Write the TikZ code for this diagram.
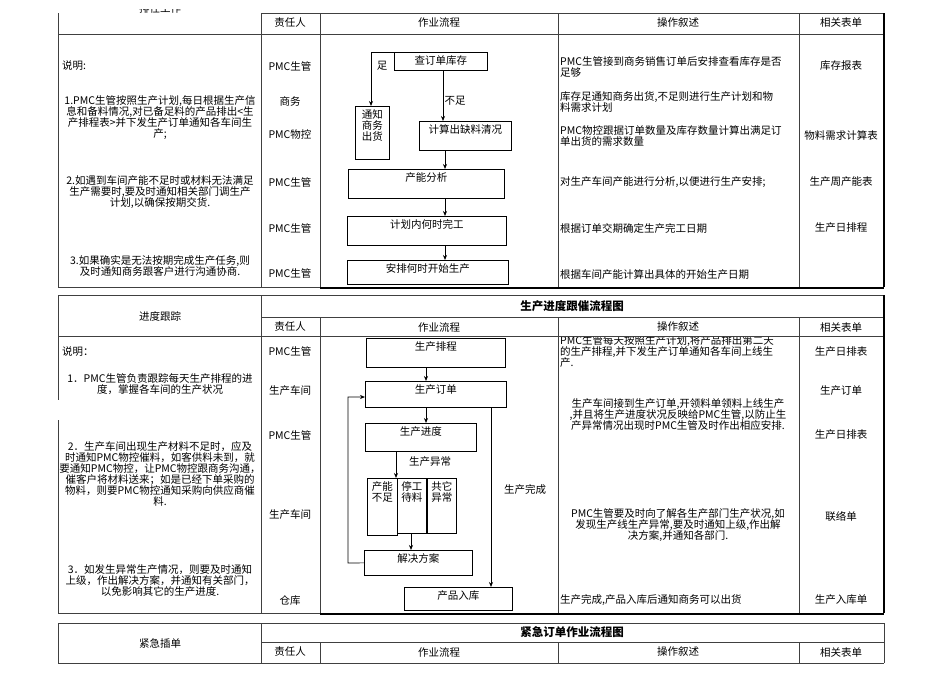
\documentclass[tikz,border=0pt]{standalone}
\usepackage{fontspec}
\setmainfont{Noto Sans CJK SC}
\usetikzlibrary{arrows.meta}
\begin{document}
\begin{tikzpicture}[x=1pt,y=-1pt,
  grid/.style={draw=black!75,line width=0.8pt},
  thk/.style={draw=black,line width=1.6pt},
  t/.style={font=\fontsize{10.5}{11}\selectfont,inner sep=0pt,align=center},
  tl/.style={t,anchor=west,align=left},
  ttl/.style={font=\fontsize{11.5}{13}\selectfont\bfseries,inner sep=0pt},
  box/.style={draw,line width=0.7pt,anchor=north west,inner sep=0pt},
  bt/.style={t,anchor=north,inner sep=0pt,yshift=-3pt},
  arr/.style={line width=0.7pt,-{Stealth[length=5pt,width=4pt]}},
  ln/.style={line width=0.7pt}]
\useasboundingbox (0,0) rectangle (950,672);
% ---------- section 1 grid
\begin{scope}
\clip (0,9) rectangle (950,672);
\node[t] (s1title) at (160,9) {排任工作};
\end{scope}
\draw[grid] (58,13)--(58,287) (261,13)--(261,287) (320,13)--(320,287) (558,13)--(558,287) (799,13)--(799,287)
  (58,34)--(884,34) (58,287)--(884,287) (261,13)--(884,13);
\draw[thk] (884,13)--(884,287) (320,288)--(884,288);
\node[t] (h1a) at (290,23) {责任人};
\node[t] (h1b) at (439,23) {作业流程};
\node[t] (h1c) at (678,23) {操作叙述};
\node[t] (h1d) at (841,23) {相关表单};
\node[tl] (l1a) at (62,66) {说明:};
\node[t] (l1b) at (160,118) {1.PMC生管按照生产计划,每日根据生产信\\息和备料情况,对已备足料的产品排出<生\\产排程表>并下发生产订单通知各车间生\\产;};
\node[t] (l1c) at (160,192) {2.如遇到车间产能不足时或材料无法满足\\生产需要时,要及时通知相关部门调生产\\计划,以确保按期交货.};
\node[t] (l1d) at (160,266) {3.如果确实是无法按期完成生产任务,则\\及时通知商务跟客户进行沟通协商.};
\node[t] (r1a) at (290,66) {PMC生管};
\node[t] (r1b) at (290,101) {商务};
\node[t] (r1c) at (290,135) {PMC物控};
\node[t] (r1d) at (290,182) {PMC生管};
\node[t] (r1e) at (290,228) {PMC生管};
\node[t] (r1f) at (290,273) {PMC生管};
\node[tl] (o1a) at (560,67) {PMC生管接到商务销售订单后安排查看库存是否\\足够};
\node[tl] (o1b) at (560,102) {库存足通知商务出货,不足则进行生产计划和物\\料需求计划};
\node[tl] (o1c) at (560,136) {PMC物控跟据订单数量及库存数量计算出满足订\\单出货的需求数量};
\node[tl] (o1d) at (560,182) {对生产车间产能进行分析,以便进行生产安排;};
\node[tl] (o1e) at (560,228) {根据订单交期确定生产完工日期};
\node[tl] (o1f) at (560,275) {根据车间产能计算出具体的开始生产日期};
\node[t] (f1a) at (841,66) {库存报表};
\node[t] (f1b) at (841,135) {物料需求计算表};
\node[t] (f1c) at (841,182) {生产周产能表};
\node[t] (f1d) at (841,228) {生产日排程};
% flow 1
\node[box,minimum width=93,minimum height=18] (c1) at (394,52) {};
\node[bt] at (c1.north) {查订单库存};
\node[box,minimum width=34,minimum height=53] (c2) at (355,106) {};
\node[bt] at (c2.north) {通知\\商务\\出货};
\node[box,minimum width=92,minimum height=29] (c3) at (419,121) {};
\node[bt] at (c3.north) {计算出缺料清况};
\node[box,minimum width=156,minimum height=29] (c4) at (348,169) {};
\node[bt] at (c4.north) {产能分析};
\node[box,minimum width=159,minimum height=29] (c5) at (347,216) {};
\node[bt] at (c5.north) {计划内何时完工};
\node[box,minimum width=161,minimum height=24] (c6) at (347,260) {};
\node[bt] at (c6.north) {安排何时开始生产};
\coordinate (k1) at (371,52);
\draw[arr] (c1.north west) -- (k1) -- (k1 |- c2.north);
\node[t] (zu) at (382,66) {足};
\draw[arr] (443,70) -- (443,121);
\node[t] (buzu) at (455,101) {不足};
\draw[arr] (445,150) -- (445,169);
\draw[arr] (445,198) -- (445,216);
\draw[arr] (445,245) -- (445,260);
% ---------- section 2 grid
\draw[grid] (58,295)--(58,400) (58,420)--(58,613) (261,295)--(261,613) (320,317)--(320,613) (558,317)--(558,613) (799,317)--(799,613)
  (58,295)--(884,295) (261,317)--(884,317) (58,336)--(884,336) (58,613)--(884,613);
\draw[thk] (884,295)--(884,613) (320,614)--(884,614);
\node[t] (s2a) at (160,316) {进度跟踪};
\node[ttl] (s2t) at (572,306) {生产进度跟催流程图};
\node[t] (h2a) at (290,327) {责任人};
\node[t] (h2b) at (439,327) {作业流程};
\node[t] (h2c) at (678,327) {操作叙述};
\node[t] (h2d) at (841,327) {相关表单};
\node[tl] (l2a) at (62,352) {说明：};
\node[t] (l2b) at (160,384) {1．PMC生管负责跟踪每天生产排程的进\\度，掌握各车间的生产状况};
\node[t] (l2c) at (160,474) {2．生产车间出现生产材料不足时，应及\\时通知PMC物控催料，如客供料未到，就\\要通知PMC物控，让PMC物控跟商务沟通，\\催客户将材料送来；如是已经下单采购的\\物料，则要PMC物控通知采购向供应商催\\料.};
\node[t] (l2d) at (160,581) {3．如发生异常生产情况，则要及时通知\\上级，作出解决方案，并通知有关部门，\\以免影响其它的生产进度.};
\node[t] (r2a) at (290,351) {PMC生管};
\node[t] (r2b) at (290,391) {生产车间};
\node[t] (r2c) at (290,435) {PMC生管};
\node[t] (r2d) at (290,515) {生产车间};
\node[t] (r2e) at (290,601) {仓库};
\begin{scope}
\clip (558,337) rectangle (799,613);
\node[tl] (o2a) at (560,352) {PMC生管每天按照生产计划,将产品排出第二天\\的生产排程,并下发生产订单通知各车间上线生\\产.};
\end{scope}
\node[t] (o2b) at (678,415) {生产车间接到生产订单,开领料单领料上线生产\\,并且将生产进度状况反映给PMC生管,以防止生\\产异常情况出现时PMC生管及时作出相应安排.};
\node[t] (o2c) at (678,525) {PMC生管要及时向了解各生产部门生产状况,如\\发现生产线生产异常,要及时通知上级,作出解\\决方案,并通知各部门.};
\node[tl] (o2d) at (560,600) {生产完成,产品入库后通知商务可以出货};
\node[t] (f2a) at (841,352) {生产日排表};
\node[t] (f2b) at (841,391) {生产订单};
\node[t] (f2c) at (841,435) {生产日排表};
\node[t] (f2d) at (841,516) {联络单};
\node[t] (f2e) at (841,600) {生产入库单};
% flow 2
\node[box,minimum width=139,minimum height=29] (d1) at (366,338) {};
\node[bt] at (d1.north) {生产排程};
\node[box,minimum width=141,minimum height=26] (d2) at (365,381) {};
\node[bt] at (d2.north) {生产订单};
\node[box,minimum width=111,minimum height=28] (d3) at (365,423) {};
\node[bt] at (d3.north) {生产进度};
\node[box,minimum width=30,minimum height=57] (d4) at (367,478) {};
\node[bt] at (d4.north) {产能\\不足};
\node[box,minimum width=29,minimum height=55] (d5) at (397,478) {};
\node[bt] at (d5.north) {停工\\待料};
\node[box,minimum width=29,minimum height=55] (d6) at (427,478) {};
\node[bt] at (d6.north) {共它\\异常};
\node[box,minimum width=108,minimum height=25] (d7) at (364,550) {};
\node[bt] at (d7.north) {解决方案};
\node[box,minimum width=108,minimum height=23] (d8) at (404,587) {};
\node[bt] at (d8.north) {产品入库};
\draw[arr] (426,367) -- (426,381);
\draw[arr] (426,407) -- (426,423);
\draw[arr] (396,451) -- (396,478);
\node[t] (yc) at (430,462) {生产异常};
\draw[arr] (411,533) -- (411,550);
\coordinate (k2) at (348,563);
\coordinate (k3) at (348,397);
\draw[arr] (d7.west) -- (k2) -- (k3) -- (365,397);
\draw[arr] (491,407) -- (491,587);
\node[t] (wc) at (525,489) {生产完成};
% ---------- section 3
\draw[grid] (58,623)--(58,663) (261,623)--(261,663) (320,642)--(320,663) (558,642)--(558,663) (799,642)--(799,663)
  (58,623)--(884,623) (261,642)--(884,642) (58,663)--(884,663) (884,623)--(884,663);
\node[t] (s3a) at (160,643) {紧急插单};
\node[ttl] (s3t) at (572,632) {紧急订单作业流程图};
\node[t] (h3a) at (290,652) {责任人};
\node[t] (h3b) at (439,652) {作业流程};
\node[t] (h3c) at (678,652) {操作叙述};
\node[t] (h3d) at (841,652) {相关表单};
\end{tikzpicture}
\end{document}
